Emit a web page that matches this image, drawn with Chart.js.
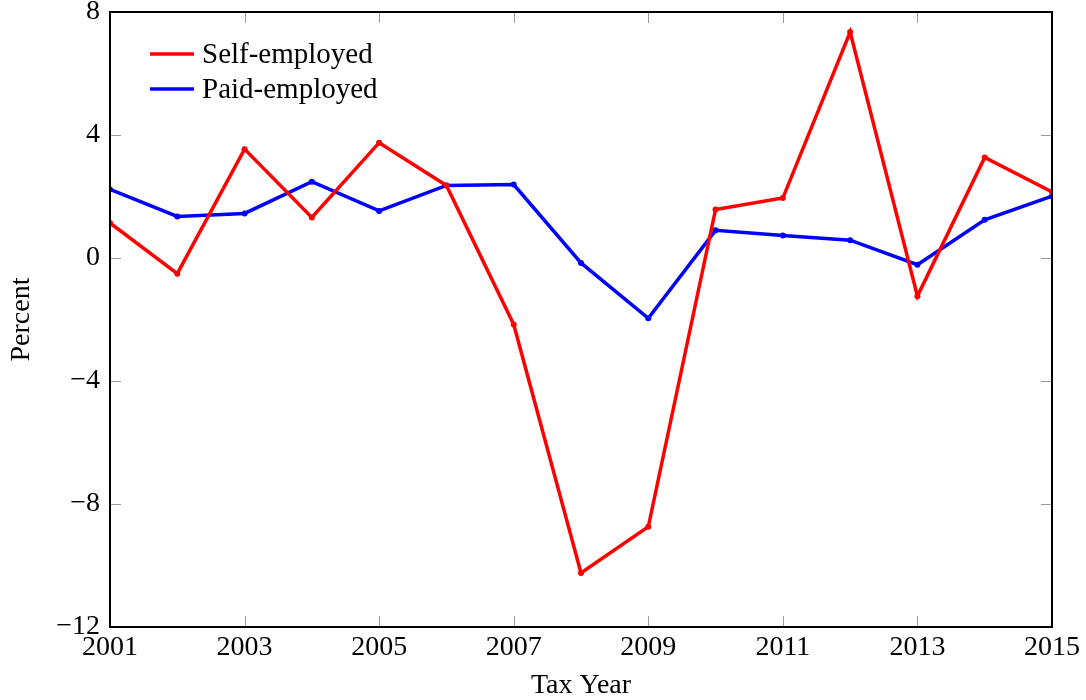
<!DOCTYPE html>
<html lang="en">
<head>
  <meta charset="UTF-8">
  <title>Self-employed vs Paid-employed</title>
  <script src="https://cdn.jsdelivr.net/npm/chart.js"></script>
  <style>
    body {
      margin: 0;
      padding: 0;
      background: #fff;
    }
    canvas {
      display: block;
    }
  </style>
</head>
<body>
  <canvas id="chart" width="1086" height="700"></canvas>

  <script>
    const years = [2001, 2002, 2003, 2004, 2005, 2006, 2007, 2008, 2009, 2010, 2011, 2012, 2013, 2014, 2015];
    const selfEmployed = [1.14, -0.51, 3.54, 1.32, 3.75, 2.36, -2.16, -10.24, -8.74, 1.58, 1.95, 7.35, -1.24, 3.27, 2.15];
    const paidEmployed = [2.23, 1.35, 1.45, 2.48, 1.53, 2.36, 2.39, -0.16, -1.96, 0.90, 0.73, 0.58, -0.22, 1.24, 2.01];
    const yTicks = [-12, -8, -4, 0, 4, 8];

    const serif = '"Liberation Serif", "DejaVu Serif", serif';

    // pgfplots style: ticks inside the frame on all four sides, black box
    const frameTicks = {
      id: 'frameTicks',
      beforeDatasetsDraw(chart) {
        const { ctx, chartArea: a, scales } = chart;
        ctx.save();
        ctx.strokeStyle = '#9a9a9a';
        ctx.lineWidth = 1;
        ctx.beginPath();
        scales.x.ticks.forEach(t => {
          const px = Math.round(scales.x.getPixelForValue(t.value)) + 0.5;
          ctx.moveTo(px, a.top); ctx.lineTo(px, a.top + 11);
          ctx.moveTo(px, a.bottom); ctx.lineTo(px, a.bottom - 11);
        });
        scales.y.ticks.forEach(t => {
          const py = Math.round(scales.y.getPixelForValue(t.value)) + 0.5;
          ctx.moveTo(a.left, py); ctx.lineTo(a.left + 11, py);
          ctx.moveTo(a.right, py); ctx.lineTo(a.right - 11, py);
        });
        ctx.stroke();
        ctx.restore();
      },
      afterDatasetsDraw(chart) {
        const { ctx, chartArea: a } = chart;
        ctx.save();
        ctx.strokeStyle = '#000';
        ctx.lineWidth = 2;
        ctx.strokeRect(a.left, a.top, a.right - a.left, a.bottom - a.top);
        ctx.restore();
      }
    };

    // legend inside the plot, top-left
    const insideLegend = {
      id: 'insideLegend',
      afterDraw(chart) {
        const { ctx, chartArea: a } = chart;
        ctx.save();
        ctx.font = '29px ' + serif;
        ctx.textBaseline = 'middle';
        ctx.textAlign = 'left';
        chart.data.datasets.forEach((ds, i) => {
          const y = a.top + 42 + i * 35;
          ctx.strokeStyle = ds.borderColor;
          ctx.lineWidth = 3.5;
          ctx.beginPath();
          ctx.moveTo(a.left + 40, y);
          ctx.lineTo(a.left + 84, y);
          ctx.stroke();
          ctx.fillStyle = '#000';
          ctx.fillText(ds.label, a.left + 92, y + 1);
        });
        ctx.restore();
      }
    };

    const ctx = document.getElementById('chart').getContext('2d');
    new Chart(ctx, {
      type: 'line',
      data: {
        datasets: [
          {
            label: 'Self-employed',
            data: years.map((yr, i) => ({ x: yr, y: selfEmployed[i] })),
            borderColor: '#ff0000',
            backgroundColor: '#ff0000',
            borderWidth: 3.5,
            pointRadius: 3,
            pointBorderWidth: 0,
            tension: 0
          },
          {
            label: 'Paid-employed',
            data: years.map((yr, i) => ({ x: yr, y: paidEmployed[i] })),
            borderColor: '#0000ff',
            backgroundColor: '#0000ff',
            borderWidth: 3.5,
            pointRadius: 3,
            pointBorderWidth: 0,
            tension: 0
          }
        ]
      },
      options: {
        responsive: false,
        animation: false,
        devicePixelRatio: 1,
        layout: { padding: { top: 12, right: 34, bottom: 0, left: 0 } },
        scales: {
          x: {
            type: 'linear',
            min: 2001,
            max: 2015,
            afterFit(scale) {
              scale.height = 73;
              scale.paddingLeft = 0;
              scale.paddingRight = 0;
            },
            ticks: {
              stepSize: 2,
              padding: 4,
              color: '#000',
              font: { family: serif, size: 28 },
              callback: v => String(v)
            },
            grid: { display: false, drawTicks: false },
            border: { display: false },
            title: {
              display: true,
              text: 'Tax Year',
              color: '#000',
              font: { family: serif, size: 28, lineHeight: 1 },
              padding: { top: 1, bottom: 0 }
            }
          },
          y: {
            min: -12,
            max: 8,
            afterFit(scale) {
              scale.width = 110;
              scale.paddingTop = 0;
              scale.paddingBottom = 0;
            },
            afterBuildTicks(scale) { scale.ticks = yTicks.map(v => ({ value: v })); },
            ticks: {
              padding: 10,
              color: '#000',
              font: { family: serif, size: 28 },
              callback: v => (v < 0 ? '\u2212' + Math.abs(v) : String(v))
            },
            grid: { display: false, drawTicks: false },
            border: { display: false },
            title: {
              display: true,
              text: 'Percent',
              color: '#000',
              font: { family: serif, size: 28, lineHeight: 1 },
              padding: { top: 8, bottom: 0 }
            }
          }
        },
        plugins: {
          legend: { display: false },
          tooltip: { enabled: false }
        }
      },
      plugins: [frameTicks, insideLegend]
    });
  </script>
</body>
</html>
